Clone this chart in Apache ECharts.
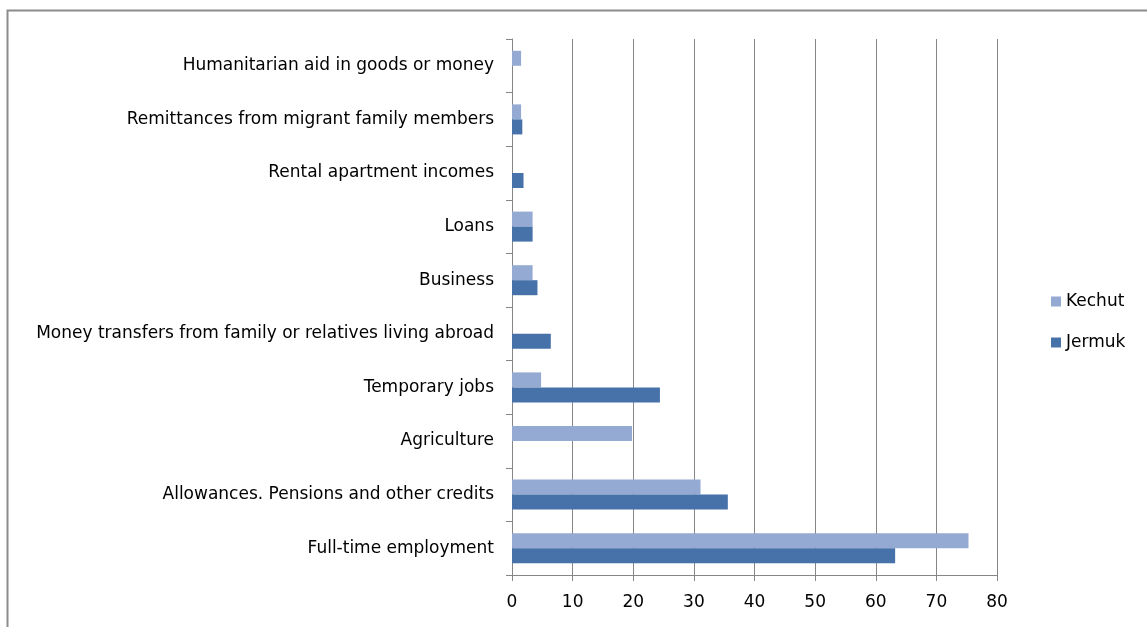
<!DOCTYPE html>
<html>
<head>
<meta charset="utf-8">
<script src="https://cdn.jsdelivr.net/npm/echarts@6/dist/echarts.min.js"></script>
<style>
html,body{margin:0;padding:0;background:#fff;}
#chart{width:1147px;height:627px;}
</style>
</head>
<body>
<div id="chart"></div>
<script>
// categories bottom to top
var categories = ['Full-time employment', 'Allowances. Pensions and other credits', 'Agriculture', 'Temporary jobs',
	'Money transfers from family or relatives living abroad', 'Business', 'Loans', 'Rental apartment incomes',
	'Remittances from migrant family members', 'Humanitarian aid in goods or money'];
var kechut = [75.3, 31.1, 19.8, 4.8, 0, 3.4, 3.4, 0, 1.5, 1.5];
var jermuk = [63.2, 35.6, 0, 24.4, 6.4, 4.2, 3.4, 1.9, 1.7, 0];
var xTicks = [0, 80, 10];

var fontFam = 'DejaVu Sans';
var myChart = echarts.init(document.getElementById('chart'));

var option = {
	backgroundColor: '#fff',
	animation: false,
	graphic: [{
		type: 'rect',
		shape: {x: 7.5, y: 10.5, width: 1160, height: 640},
		style: {fill: 'none', stroke: '#8c8c8c', lineWidth: 2}
	}],
	legend: {
		orient: 'vertical',
		left: 1046,
		top: 288,
		itemWidth: 10,
		itemHeight: 10,
		itemGap: 24,
		icon: 'rect',
		data: ['Kechut', 'Jermuk'],
		textStyle: {fontFamily: fontFam, fontSize: 17, color: '#000', padding: [0, 0, 0, 0]}
	},
	grid: {left: 512, right: 150, top: 39, bottom: 52},
	xAxis: {
		type: 'value',
		min: xTicks[0],
		max: xTicks[1],
		interval: xTicks[2],
		axisLine: {show: true, lineStyle: {color: '#868686'}},
		axisTick: {show: true, length: 6, lineStyle: {color: '#868686'}},
		axisLabel: {fontFamily: fontFam, fontSize: 17, color: '#000', margin: 19},
		splitLine: {show: true, lineStyle: {color: '#868686', width: 1}}
	},
	yAxis: {
		type: 'category',
		data: categories,
		axisLine: {show: true, lineStyle: {color: '#868686'}},
		axisTick: {show: true, length: 6, inside: false, lineStyle: {color: '#868686'}},
		axisLabel: {fontFamily: fontFam, fontSize: 17, color: '#000', margin: 18}
	},
	series: [
		{
			name: 'Kechut',
			type: 'bar',
			data: kechut,
			barGap: '0%',
			barCategoryGap: '44%',
			itemStyle: {color: '#95aad2'}
		},
		{
			name: 'Jermuk',
			type: 'bar',
			data: jermuk,
			barGap: '0%',
			barCategoryGap: '44%',
			itemStyle: {color: '#4672a9'}
		}
	]
};
myChart.setOption(option);
</script>
</body>
</html>
